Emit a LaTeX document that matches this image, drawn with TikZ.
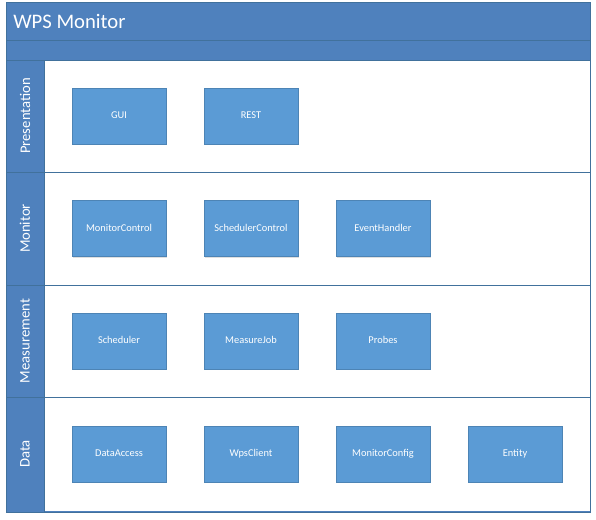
\documentclass[tikz,border=0pt]{standalone}
\usepackage{fontspec}
\setmainfont{Carlito}
\usetikzlibrary{shadows}

\definecolor{hdrblue}{RGB}{79,129,189}
\definecolor{boxblue}{RGB}{91,155,213}
\definecolor{lineblue}{RGB}{65,113,156}

\tikzset{
  comp/.style={draw=boxblue!85!black, line width=0.3pt, fill=boxblue, text=white,
    minimum width=70.5pt, minimum height=42pt, inner sep=0pt,
    text height=5.5pt, text depth=1.5pt,
    font=\fontsize{7.8}{9}\selectfont,
    drop shadow={shadow xshift=0.8pt, shadow yshift=-0.8pt, opacity=0.25}},
  lanelbl/.style={text=white, rotate=90, inner sep=0.75pt, font=\fontsize{11}{13}\selectfont}
}

\begin{document}
\begin{tikzpicture}[x=0.75pt,y=0.75pt,yscale=-1,xscale=1]
\useasboundingbox (0,0) rectangle (596,519);

%Shape: Rectangle [frame]
\draw [lineblue, fill=hdrblue, line width=0.6]  (6,2) -- (590,2) -- (590,512) -- (6,512) -- cycle ;
%Shape: Rectangle [lanes]
\fill [white]  (44,60) -- (590,60) -- (590,511) -- (44,511) -- cycle ;
%Straight Lines [bars]
\draw [lineblue, line width=0.6]  (6,40) -- (590,40) ;
\draw [lineblue, line width=0.6]  (6,60) -- (590,60) ;
\draw [lineblue, line width=0.6]  (6,172) -- (590,172) ;
\draw [lineblue, line width=0.6]  (6,285) -- (590,285) ;
\draw [lineblue, line width=0.6]  (6,397) -- (590,397) ;
\draw [lineblue, line width=0.6]  (44,60) -- (44,512) ;
\draw [lineblue, line width=0.6]  (590,2) -- (590,512) ;

% Text Node
\draw (12,21) node [anchor=west, text=white, inner sep=0.75pt, font=\fontsize{15.5}{18}\selectfont] (title) {WPS Monitor};
% Text Node
\draw (25,116) node [lanelbl] (presentation) {Presentation};
% Text Node
\draw (25,228.5) node [lanelbl] (monitor) {Monitor};
% Text Node
\draw (25,341) node [lanelbl] (measurement) {Measurement};
% Text Node
\draw (25,454) node [lanelbl] (data) {Data};

% Presentation
\draw (119,116) node [comp] (gui) {GUI};
\draw (251,116) node [comp] (rest) {REST};
% Monitor
\draw (119,228.5) node [comp] (monitorcontrol) {MonitorControl};
\draw (251,228.5) node [comp] (schedulercontrol) {SchedulerControl};
\draw (383,228.5) node [comp] (eventhandler) {EventHandler};
% Measurement
\draw (119,341) node [comp] (scheduler) {Scheduler};
\draw (251,341) node [comp] (measurejob) {MeasureJob};
\draw (383,341) node [comp] (probes) {Probes};
% Data
\draw (119,454) node [comp] (dataaccess) {DataAccess};
\draw (251,454) node [comp] (wpsclient) {WpsClient};
\draw (383,454) node [comp] (monitorconfig) {MonitorConfig};
\draw (515,454) node [comp] (entity) {Entity};

\end{tikzpicture}
\end{document}
